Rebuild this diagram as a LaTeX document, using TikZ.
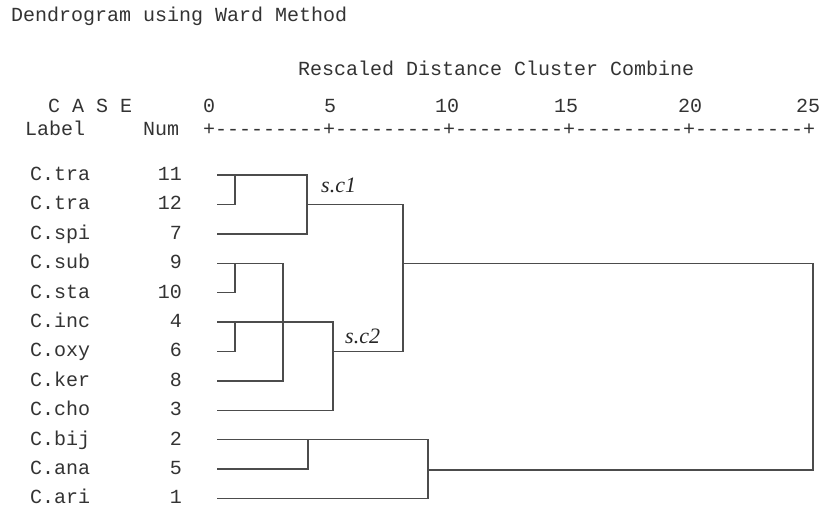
\documentclass[tikz,border=0pt]{standalone}
\usepackage{fontspec}
\setmonofont{Liberation Mono}
\newfontfamily\tagfont{Liberation Serif}
\usepackage{tikz}
\usetikzlibrary{positioning}

\begin{document}
\begin{tikzpicture}[x=1pt, y=-1pt,
  txt/.style={inner sep=0pt, anchor=base west, text=black!80,
    font=\ttfamily\fontsize{20}{24}\selectfont},
  num/.style={txt, anchor=base east},
  tick/.style={txt, anchor=base},
  tag/.style={inner sep=0pt, anchor=base west, text=black!85,
    font=\tagfont\itshape\fontsize{22}{26}\selectfont},
  link/.style={draw=black!70, line width=1.4pt}
]
\useasboundingbox (0,0) rectangle (819,515);

\node[txt] (title) at (11,21) {Dendrogram using Ward Method};
\node[txt] (scale) at (298,75) {Rescaled Distance Cluster Combine};
\node[txt] (case) at (48,112) {C A S E};
\node[txt] (label) at (25,135) {Label};
\node[txt] (numhd) at (143,135) {Num};
\node[txt] (ruler) at (203,135) {+---------+---------+---------+---------+---------+};
\node[tick] (t0) at (209,112) {0};
\node[tick] (t5) at (330,112) {5};
\node[tick] (t10) at (447,112) {10};
\node[tick] (t15) at (566,112) {15};
\node[tick] (t20) at (690,112) {20};
\node[tick] (t25) at (808,112) {25};

\node[txt] (c11) at (30,180.5) {C.tra};
\node[txt] (c12) at (30,209.9) {C.tra};
\node[txt] (c7) at (30,239.3) {C.spi};
\node[txt] (c9) at (30,268.7) {C.sub};
\node[txt] (c10) at (30,298.1) {C.sta};
\node[txt] (c4) at (30,327.5) {C.inc};
\node[txt] (c6) at (30,356.9) {C.oxy};
\node[txt] (c8) at (30,386.3) {C.ker};
\node[txt] (c3) at (30,415.7) {C.cho};
\node[txt] (c2) at (30,445.1) {C.bij};
\node[txt] (c5) at (30,474.5) {C.ana};
\node[txt] (c1) at (30,503.9) {C.ari};

\node[num] (n11) at (182,180.5) {11};
\node[num] (n12) at (182,209.9) {12};
\node[num] (n7) at (182,239.3) {7};
\node[num] (n9) at (182,268.7) {9};
\node[num] (n10) at (182,298.1) {10};
\node[num] (n4) at (182,327.5) {4};
\node[num] (n6) at (182,356.9) {6};
\node[num] (n8) at (182,386.3) {8};
\node[num] (n3) at (182,415.7) {3};
\node[num] (n2) at (182,445.1) {2};
\node[num] (n5) at (182,474.5) {5};
\node[num] (n1) at (182,503.9) {1};

\coordinate (s11) at (217,175);
\coordinate (s12) at (217,204.4);
\coordinate (s7) at (217,233.8);
\coordinate (s9) at (217,263.2);
\coordinate (s10) at (217,292.6);
\coordinate (s4) at (217,322);
\coordinate (s6) at (217,351.4);
\coordinate (s8) at (217,380.8);
\coordinate (s3) at (217,410.2);
\coordinate (s2) at (217,439.6);
\coordinate (s5) at (217,469);
\coordinate (s1) at (217,498.4);

\coordinate (j1112) at (235,175);
\coordinate (j910) at (235,263.2);
\coordinate (j46) at (235,322);
\coordinate (j8) at (283,263.2);
\coordinate (j7) at (307,175);
\coordinate (j25) at (308,439.6);
\coordinate (j3) at (333,322);
\coordinate (j1) at (428,439.6);
\coordinate (sc1) at (307,204.4);
\coordinate (sc2) at (333,351.4);
\coordinate (top) at (403,204.4);
\coordinate (mid) at (403,263.2);
\coordinate (root) at (813,470);
\coordinate (low) at (428,470);

\draw[link] (s12) -| (j1112);
\draw[link] (s11) -- (j7) |- (s7);
\draw[link] (sc1) -- (top) |- (sc2);
\draw[link] (s10) -| (j910);
\draw[link] (s9) -- (j8) |- (s8);
\draw[link] (s6) -| (j46);
\draw[link] (s4) -- (j3) |- (s3);
\draw[link] (s5) -| (j25);
\draw[link] (s2) -- (j1) |- (s1);
\draw[link] (mid) -| (root) -- (low);

\node[tag] (tag1) at (321,192) {s.c1};
\node[tag] (tag2) at (345,343) {s.c2};
\end{tikzpicture}
\end{document}
